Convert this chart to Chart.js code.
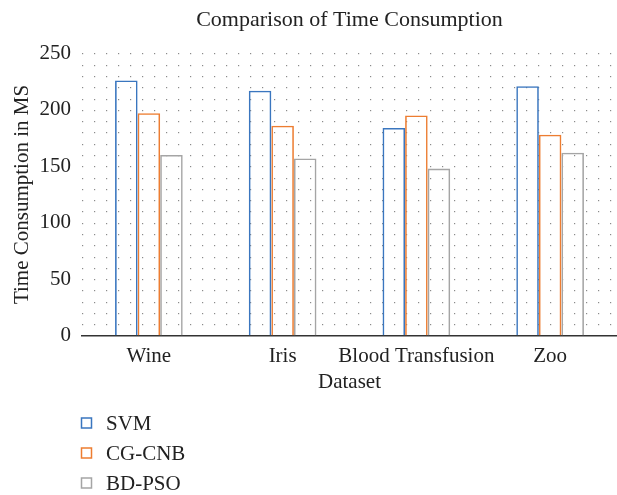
<!DOCTYPE html>
<html><head>
<meta charset="utf-8">
<script src="https://cdn.jsdelivr.net/npm/chart.js"></script>
<style>html,body{margin:0;padding:0;background:#fff}#wrap{width:617px;height:495px;position:relative}</style>
</head><body><div id="wrap"><canvas id="c"></canvas></div>
<script>
const categories = ['Wine', 'Iris', 'Blood Transfusion', 'Zoo'];
const svmValues = [226, 217, 184, 221];
const cgcnbValues = [197, 186, 195, 178];
const bdpsoValues = [160, 157, 148, 162];
const seriesNames = ['SVM', 'CG-CNB', 'BD-PSO'];
const yTickValues = [0, 50, 100, 150, 200, 250];

const FONT = "'Liberation Serif', 'Times New Roman', serif";
const colors = ['#3a76bf', '#ed7d31', '#a5a5a5'];

const dotGrid = {
  id: 'dotGrid',
  beforeDatasetsDraw(chart) {
    const {ctx, chartArea, scales} = chart;
    ctx.save();
    ctx.fillStyle = '#8a8a8a';
    for (let v = 10; v <= 250; v += 10) {
      const y = Math.round(scales.y.getPixelForValue(v));
      for (let x = chartArea.left; x < chartArea.right; x += 12) {
        ctx.fillRect(Math.round(x), y, 1.2, 1.2);
      }
    }
    ctx.restore();
  }
};

const sideLegend = {
  id: 'sideLegend',
  afterDraw(chart) {
    const {ctx} = chart;
    ctx.save();
    ctx.font = "21px " + FONT;
    ctx.textBaseline = 'middle';
    chart.data.datasets.forEach((ds, i) => {
      const y = 423 + i * 30;
      ctx.strokeStyle = ds.borderColor;
      ctx.lineWidth = 1.5;
      ctx.strokeRect(81.5, y - 5, 10, 10);
      ctx.fillStyle = '#222';
      ctx.fillText(ds.label, 106, y + 1);
    });
    ctx.restore();
  }
};

new Chart(document.getElementById('c'), {
  type: 'bar',
  data: {
    labels: categories,
    datasets: [
      {label: seriesNames[0], data: svmValues, borderColor: colors[0]},
      {label: seriesNames[1], data: cgcnbValues, borderColor: colors[1]},
      {label: seriesNames[2], data: bdpsoValues, borderColor: colors[2]}
    ].map(d => Object.assign(d, {backgroundColor: 'rgba(255,255,255,0)', borderWidth: 1.6, borderSkipped: 'bottom', categoryPercentage: 0.506, barPercentage: 1.0}))
  },
  options: {
    responsive: true,
    maintainAspectRatio: false,
    animation: false,
    layout: {padding: {top: 0, right: 0, bottom: 96, left: 0}},
    plugins: {
      legend: {display: false},
      tooltip: {enabled: false},
      title: {display: true, fullSize: false, text: 'Comparison of Time Consumption', color: '#222',
        font: {family: FONT, size: 22, weight: 'normal'}, padding: {top: 7, bottom: 20}}
    },
    scales: {
      x: {
        grid: {display: false},
        border: {display: true, color: '#333', width: 1.5},
        ticks: {color: '#222', font: {family: FONT, size: 21}, padding: 0, maxRotation: 0, autoSkip: false},
        title: {display: true, text: 'Dataset', color: '#222', font: {family: FONT, size: 21}, padding: {top: 1}}
      },
      y: {
        min: 0, max: 250,
        afterBuildTicks(axis) { axis.ticks = yTickValues.map(v => ({value: v})); },
        afterFit(axis) { axis.width = 82; },
        grid: {display: false},
        border: {display: false},
        ticks: {color: '#222', font: {family: FONT, size: 21}, padding: 3},
        title: {display: true, text: 'Time Consumption in MS', color: '#222', font: {family: FONT, size: 21}, padding: {top: 10, bottom: 0}}
      }
    }
  },
  plugins: [dotGrid, sideLegend]
});
</script>
</body></html>
